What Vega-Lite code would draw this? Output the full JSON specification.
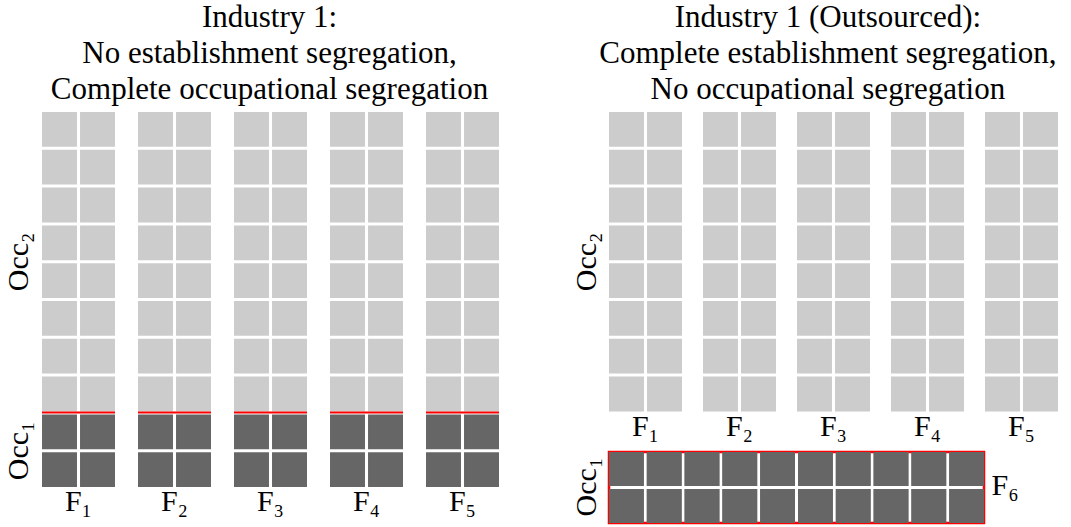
{
  "$schema": "https://vega.github.io/schema/vega-lite/v6.json",
  "background": "white",
  "padding": {"left": 3, "top": 2, "right": 0, "bottom": 0},
  "config": {
    "view": {"stroke": null},
    "font": "Liberation Serif",
    "title": {"font": "Liberation Serif", "fontSize": 31, "fontWeight": "normal", "lineHeight": 36, "color": "black", "anchor": "middle", "offset": 6},
    "header": {"labelFont": "Liberation Serif", "labelFontSize": 30, "labelColor": "black", "title": null},
    "axis": {"labelFont": "Liberation Serif", "labelFontSize": 30, "labelColor": "black", "titleFont": "Liberation Serif", "titleFontSize": 30, "titleFontWeight": "normal", "titleColor": "black"}
  },
  "datasets": {
    "left": [
      {"f":"F₁","c":1,"r":1,"o":"Occ₂"},{"f":"F₁","c":1,"r":2,"o":"Occ₂"},{"f":"F₁","c":1,"r":3,"o":"Occ₂"},{"f":"F₁","c":1,"r":4,"o":"Occ₂"},{"f":"F₁","c":1,"r":5,"o":"Occ₂"},{"f":"F₁","c":1,"r":6,"o":"Occ₂"},{"f":"F₁","c":1,"r":7,"o":"Occ₂"},{"f":"F₁","c":1,"r":8,"o":"Occ₂"},{"f":"F₁","c":1,"r":9,"o":"Occ₁"},{"f":"F₁","c":1,"r":10,"o":"Occ₁"},
      {"f":"F₁","c":2,"r":1,"o":"Occ₂"},{"f":"F₁","c":2,"r":2,"o":"Occ₂"},{"f":"F₁","c":2,"r":3,"o":"Occ₂"},{"f":"F₁","c":2,"r":4,"o":"Occ₂"},{"f":"F₁","c":2,"r":5,"o":"Occ₂"},{"f":"F₁","c":2,"r":6,"o":"Occ₂"},{"f":"F₁","c":2,"r":7,"o":"Occ₂"},{"f":"F₁","c":2,"r":8,"o":"Occ₂"},{"f":"F₁","c":2,"r":9,"o":"Occ₁"},{"f":"F₁","c":2,"r":10,"o":"Occ₁"},
      {"f":"F₂","c":1,"r":1,"o":"Occ₂"},{"f":"F₂","c":1,"r":2,"o":"Occ₂"},{"f":"F₂","c":1,"r":3,"o":"Occ₂"},{"f":"F₂","c":1,"r":4,"o":"Occ₂"},{"f":"F₂","c":1,"r":5,"o":"Occ₂"},{"f":"F₂","c":1,"r":6,"o":"Occ₂"},{"f":"F₂","c":1,"r":7,"o":"Occ₂"},{"f":"F₂","c":1,"r":8,"o":"Occ₂"},{"f":"F₂","c":1,"r":9,"o":"Occ₁"},{"f":"F₂","c":1,"r":10,"o":"Occ₁"},
      {"f":"F₂","c":2,"r":1,"o":"Occ₂"},{"f":"F₂","c":2,"r":2,"o":"Occ₂"},{"f":"F₂","c":2,"r":3,"o":"Occ₂"},{"f":"F₂","c":2,"r":4,"o":"Occ₂"},{"f":"F₂","c":2,"r":5,"o":"Occ₂"},{"f":"F₂","c":2,"r":6,"o":"Occ₂"},{"f":"F₂","c":2,"r":7,"o":"Occ₂"},{"f":"F₂","c":2,"r":8,"o":"Occ₂"},{"f":"F₂","c":2,"r":9,"o":"Occ₁"},{"f":"F₂","c":2,"r":10,"o":"Occ₁"},
      {"f":"F₃","c":1,"r":1,"o":"Occ₂"},{"f":"F₃","c":1,"r":2,"o":"Occ₂"},{"f":"F₃","c":1,"r":3,"o":"Occ₂"},{"f":"F₃","c":1,"r":4,"o":"Occ₂"},{"f":"F₃","c":1,"r":5,"o":"Occ₂"},{"f":"F₃","c":1,"r":6,"o":"Occ₂"},{"f":"F₃","c":1,"r":7,"o":"Occ₂"},{"f":"F₃","c":1,"r":8,"o":"Occ₂"},{"f":"F₃","c":1,"r":9,"o":"Occ₁"},{"f":"F₃","c":1,"r":10,"o":"Occ₁"},
      {"f":"F₃","c":2,"r":1,"o":"Occ₂"},{"f":"F₃","c":2,"r":2,"o":"Occ₂"},{"f":"F₃","c":2,"r":3,"o":"Occ₂"},{"f":"F₃","c":2,"r":4,"o":"Occ₂"},{"f":"F₃","c":2,"r":5,"o":"Occ₂"},{"f":"F₃","c":2,"r":6,"o":"Occ₂"},{"f":"F₃","c":2,"r":7,"o":"Occ₂"},{"f":"F₃","c":2,"r":8,"o":"Occ₂"},{"f":"F₃","c":2,"r":9,"o":"Occ₁"},{"f":"F₃","c":2,"r":10,"o":"Occ₁"},
      {"f":"F₄","c":1,"r":1,"o":"Occ₂"},{"f":"F₄","c":1,"r":2,"o":"Occ₂"},{"f":"F₄","c":1,"r":3,"o":"Occ₂"},{"f":"F₄","c":1,"r":4,"o":"Occ₂"},{"f":"F₄","c":1,"r":5,"o":"Occ₂"},{"f":"F₄","c":1,"r":6,"o":"Occ₂"},{"f":"F₄","c":1,"r":7,"o":"Occ₂"},{"f":"F₄","c":1,"r":8,"o":"Occ₂"},{"f":"F₄","c":1,"r":9,"o":"Occ₁"},{"f":"F₄","c":1,"r":10,"o":"Occ₁"},
      {"f":"F₄","c":2,"r":1,"o":"Occ₂"},{"f":"F₄","c":2,"r":2,"o":"Occ₂"},{"f":"F₄","c":2,"r":3,"o":"Occ₂"},{"f":"F₄","c":2,"r":4,"o":"Occ₂"},{"f":"F₄","c":2,"r":5,"o":"Occ₂"},{"f":"F₄","c":2,"r":6,"o":"Occ₂"},{"f":"F₄","c":2,"r":7,"o":"Occ₂"},{"f":"F₄","c":2,"r":8,"o":"Occ₂"},{"f":"F₄","c":2,"r":9,"o":"Occ₁"},{"f":"F₄","c":2,"r":10,"o":"Occ₁"},
      {"f":"F₅","c":1,"r":1,"o":"Occ₂"},{"f":"F₅","c":1,"r":2,"o":"Occ₂"},{"f":"F₅","c":1,"r":3,"o":"Occ₂"},{"f":"F₅","c":1,"r":4,"o":"Occ₂"},{"f":"F₅","c":1,"r":5,"o":"Occ₂"},{"f":"F₅","c":1,"r":6,"o":"Occ₂"},{"f":"F₅","c":1,"r":7,"o":"Occ₂"},{"f":"F₅","c":1,"r":8,"o":"Occ₂"},{"f":"F₅","c":1,"r":9,"o":"Occ₁"},{"f":"F₅","c":1,"r":10,"o":"Occ₁"},
      {"f":"F₅","c":2,"r":1,"o":"Occ₂"},{"f":"F₅","c":2,"r":2,"o":"Occ₂"},{"f":"F₅","c":2,"r":3,"o":"Occ₂"},{"f":"F₅","c":2,"r":4,"o":"Occ₂"},{"f":"F₅","c":2,"r":5,"o":"Occ₂"},{"f":"F₅","c":2,"r":6,"o":"Occ₂"},{"f":"F₅","c":2,"r":7,"o":"Occ₂"},{"f":"F₅","c":2,"r":8,"o":"Occ₂"},{"f":"F₅","c":2,"r":9,"o":"Occ₁"},{"f":"F₅","c":2,"r":10,"o":"Occ₁"}
    ],
    "right": [
      {"f":"F₁","c":1,"r":1,"o":"Occ₂"},{"f":"F₁","c":1,"r":2,"o":"Occ₂"},{"f":"F₁","c":1,"r":3,"o":"Occ₂"},{"f":"F₁","c":1,"r":4,"o":"Occ₂"},{"f":"F₁","c":1,"r":5,"o":"Occ₂"},{"f":"F₁","c":1,"r":6,"o":"Occ₂"},{"f":"F₁","c":1,"r":7,"o":"Occ₂"},{"f":"F₁","c":1,"r":8,"o":"Occ₂"},
      {"f":"F₁","c":2,"r":1,"o":"Occ₂"},{"f":"F₁","c":2,"r":2,"o":"Occ₂"},{"f":"F₁","c":2,"r":3,"o":"Occ₂"},{"f":"F₁","c":2,"r":4,"o":"Occ₂"},{"f":"F₁","c":2,"r":5,"o":"Occ₂"},{"f":"F₁","c":2,"r":6,"o":"Occ₂"},{"f":"F₁","c":2,"r":7,"o":"Occ₂"},{"f":"F₁","c":2,"r":8,"o":"Occ₂"},
      {"f":"F₂","c":1,"r":1,"o":"Occ₂"},{"f":"F₂","c":1,"r":2,"o":"Occ₂"},{"f":"F₂","c":1,"r":3,"o":"Occ₂"},{"f":"F₂","c":1,"r":4,"o":"Occ₂"},{"f":"F₂","c":1,"r":5,"o":"Occ₂"},{"f":"F₂","c":1,"r":6,"o":"Occ₂"},{"f":"F₂","c":1,"r":7,"o":"Occ₂"},{"f":"F₂","c":1,"r":8,"o":"Occ₂"},
      {"f":"F₂","c":2,"r":1,"o":"Occ₂"},{"f":"F₂","c":2,"r":2,"o":"Occ₂"},{"f":"F₂","c":2,"r":3,"o":"Occ₂"},{"f":"F₂","c":2,"r":4,"o":"Occ₂"},{"f":"F₂","c":2,"r":5,"o":"Occ₂"},{"f":"F₂","c":2,"r":6,"o":"Occ₂"},{"f":"F₂","c":2,"r":7,"o":"Occ₂"},{"f":"F₂","c":2,"r":8,"o":"Occ₂"},
      {"f":"F₃","c":1,"r":1,"o":"Occ₂"},{"f":"F₃","c":1,"r":2,"o":"Occ₂"},{"f":"F₃","c":1,"r":3,"o":"Occ₂"},{"f":"F₃","c":1,"r":4,"o":"Occ₂"},{"f":"F₃","c":1,"r":5,"o":"Occ₂"},{"f":"F₃","c":1,"r":6,"o":"Occ₂"},{"f":"F₃","c":1,"r":7,"o":"Occ₂"},{"f":"F₃","c":1,"r":8,"o":"Occ₂"},
      {"f":"F₃","c":2,"r":1,"o":"Occ₂"},{"f":"F₃","c":2,"r":2,"o":"Occ₂"},{"f":"F₃","c":2,"r":3,"o":"Occ₂"},{"f":"F₃","c":2,"r":4,"o":"Occ₂"},{"f":"F₃","c":2,"r":5,"o":"Occ₂"},{"f":"F₃","c":2,"r":6,"o":"Occ₂"},{"f":"F₃","c":2,"r":7,"o":"Occ₂"},{"f":"F₃","c":2,"r":8,"o":"Occ₂"},
      {"f":"F₄","c":1,"r":1,"o":"Occ₂"},{"f":"F₄","c":1,"r":2,"o":"Occ₂"},{"f":"F₄","c":1,"r":3,"o":"Occ₂"},{"f":"F₄","c":1,"r":4,"o":"Occ₂"},{"f":"F₄","c":1,"r":5,"o":"Occ₂"},{"f":"F₄","c":1,"r":6,"o":"Occ₂"},{"f":"F₄","c":1,"r":7,"o":"Occ₂"},{"f":"F₄","c":1,"r":8,"o":"Occ₂"},
      {"f":"F₄","c":2,"r":1,"o":"Occ₂"},{"f":"F₄","c":2,"r":2,"o":"Occ₂"},{"f":"F₄","c":2,"r":3,"o":"Occ₂"},{"f":"F₄","c":2,"r":4,"o":"Occ₂"},{"f":"F₄","c":2,"r":5,"o":"Occ₂"},{"f":"F₄","c":2,"r":6,"o":"Occ₂"},{"f":"F₄","c":2,"r":7,"o":"Occ₂"},{"f":"F₄","c":2,"r":8,"o":"Occ₂"},
      {"f":"F₅","c":1,"r":1,"o":"Occ₂"},{"f":"F₅","c":1,"r":2,"o":"Occ₂"},{"f":"F₅","c":1,"r":3,"o":"Occ₂"},{"f":"F₅","c":1,"r":4,"o":"Occ₂"},{"f":"F₅","c":1,"r":5,"o":"Occ₂"},{"f":"F₅","c":1,"r":6,"o":"Occ₂"},{"f":"F₅","c":1,"r":7,"o":"Occ₂"},{"f":"F₅","c":1,"r":8,"o":"Occ₂"},
      {"f":"F₅","c":2,"r":1,"o":"Occ₂"},{"f":"F₅","c":2,"r":2,"o":"Occ₂"},{"f":"F₅","c":2,"r":3,"o":"Occ₂"},{"f":"F₅","c":2,"r":4,"o":"Occ₂"},{"f":"F₅","c":2,"r":5,"o":"Occ₂"},{"f":"F₅","c":2,"r":6,"o":"Occ₂"},{"f":"F₅","c":2,"r":7,"o":"Occ₂"},{"f":"F₅","c":2,"r":8,"o":"Occ₂"}
    ],
    "outsourced": [
      {"f":"F₆","c":1,"r":1,"o":"Occ₁"},{"f":"F₆","c":2,"r":1,"o":"Occ₁"},{"f":"F₆","c":3,"r":1,"o":"Occ₁"},{"f":"F₆","c":4,"r":1,"o":"Occ₁"},{"f":"F₆","c":5,"r":1,"o":"Occ₁"},{"f":"F₆","c":6,"r":1,"o":"Occ₁"},{"f":"F₆","c":7,"r":1,"o":"Occ₁"},{"f":"F₆","c":8,"r":1,"o":"Occ₁"},{"f":"F₆","c":9,"r":1,"o":"Occ₁"},{"f":"F₆","c":10,"r":1,"o":"Occ₁"},
      {"f":"F₆","c":1,"r":2,"o":"Occ₁"},{"f":"F₆","c":2,"r":2,"o":"Occ₁"},{"f":"F₆","c":3,"r":2,"o":"Occ₁"},{"f":"F₆","c":4,"r":2,"o":"Occ₁"},{"f":"F₆","c":5,"r":2,"o":"Occ₁"},{"f":"F₆","c":6,"r":2,"o":"Occ₁"},{"f":"F₆","c":7,"r":2,"o":"Occ₁"},{"f":"F₆","c":8,"r":2,"o":"Occ₁"},{"f":"F₆","c":9,"r":2,"o":"Occ₁"},{"f":"F₆","c":10,"r":2,"o":"Occ₁"}
    ]
  },
  "spacing": 69,
  "hconcat": [
    {
      "title": {"text": ["Industry 1:", "No establishment segregation,", "Complete occupational segregation"], "dx": 18},
      "data": {"name": "left"},
      "facet": {"column": {"field": "f", "type": "nominal", "header": {"title": null, "labelOrient": "bottom", "labelPadding": 0}}},
      "spacing": {"column": 21},
      "spec": {
        "width": 73,
        "height": 375,
        "layer": [
          {
            "mark": {"type": "rect"},
            "encoding": {
              "x": {"field": "c", "type": "ordinal", "scale": {"paddingInner": 0.08, "paddingOuter": 0}, "axis": null},
              "y": {"field": "r", "type": "ordinal", "scale": {"paddingInner": 0.08, "paddingOuter": 0},
                    "axis": {"title": null, "domain": false, "ticks": false, "labelOverlap": false, "labelBound": false,
                             "labelExpr": "datum.value == 4 ? 'Occ₂' : (datum.value == 9 ? 'Occ₁' : '')",
                             "labelAngle": -90, "labelAlign": "center", "labelBaseline": "bottom", "labelOffset": 19, "labelPadding": 8}},
              "color": {"field": "o", "type": "nominal", "scale": {"domain": ["Occ₂", "Occ₁"], "range": ["#cccccc", "#666666"]}, "legend": null}
            }
          },
          {
            "transform": [{"filter": "datum.r == 8 && datum.c == 1"}],
            "mark": {"type": "rule", "color": "#ff0000", "strokeWidth": 2, "yOffset": 1},
            "encoding": {"y": {"field": "r", "type": "ordinal", "bandPosition": 1}}
          }
        ]
      }
    },
    {
      "title": {"text": ["Industry 1 (Outsourced):", "Complete establishment segregation,", "No occupational segregation"], "dx": 14},
      "spacing": 8,
      "vconcat": [
        {
          "data": {"name": "right"},
          "facet": {"column": {"field": "f", "type": "nominal", "header": {"title": null, "labelOrient": "bottom", "labelPadding": 0}}},
          "spacing": {"column": 21},
          "spec": {
            "width": 73,
            "height": 299.4,
            "mark": {"type": "rect"},
            "encoding": {
              "x": {"field": "c", "type": "ordinal", "scale": {"paddingInner": 0.08, "paddingOuter": 0}, "axis": null},
              "y": {"field": "r", "type": "ordinal", "scale": {"paddingInner": 0.08, "paddingOuter": 0},
                    "axis": {"title": null, "domain": false, "ticks": false, "labelOverlap": false, "labelBound": false,
                             "labelExpr": "datum.value == 4 ? 'Occ₂' : ''",
                             "labelAngle": -90, "labelAlign": "center", "labelBaseline": "bottom", "labelOffset": 19, "labelPadding": 8}},
              "color": {"field": "o", "type": "nominal", "scale": {"domain": ["Occ₂", "Occ₁"], "range": ["#cccccc", "#666666"]}, "legend": null}
            }
          }
        },
        {
          "data": {"name": "outsourced"},
          "width": 375,
          "height": 71,
          "view": {"stroke": "#ff0000", "strokeWidth": 2.5},
          "encoding": {
            "x": {"field": "c", "type": "ordinal", "scale": {"paddingInner": 0.08, "paddingOuter": 0}, "axis": null},
            "color": {"field": "o", "type": "nominal", "scale": {"domain": ["Occ₂", "Occ₁"], "range": ["#cccccc", "#666666"]}, "legend": null}
          },
          "layer": [
            {
              "mark": {"type": "rect"},
              "encoding": {
                "y": {"field": "r", "type": "ordinal", "scale": {"paddingInner": 0.08, "paddingOuter": 0},
                      "axis": {"title": null, "domain": false, "ticks": false, "labelOverlap": false, "labelBound": false,
                               "labelExpr": "datum.value == 1 ? 'Occ₁' : ''",
                               "labelAngle": -90, "labelAlign": "center", "labelBaseline": "bottom", "labelOffset": 18, "labelPadding": 8}}
              }
            },
            {
              "mark": {"type": "rect"},
              "encoding": {
                "y": {"field": "r", "type": "ordinal",
                      "axis": {"orient": "right", "title": "F₆", "titleAngle": 0, "titleAlign": "left", "titleBaseline": "middle", "titleX": 7, "titleY": 33,
                               "labels": false, "ticks": false, "domain": false}}
              }
            }
          ],
          "resolve": {"axis": {"y": "independent"}}
        }
      ]
    }
  ]
}
